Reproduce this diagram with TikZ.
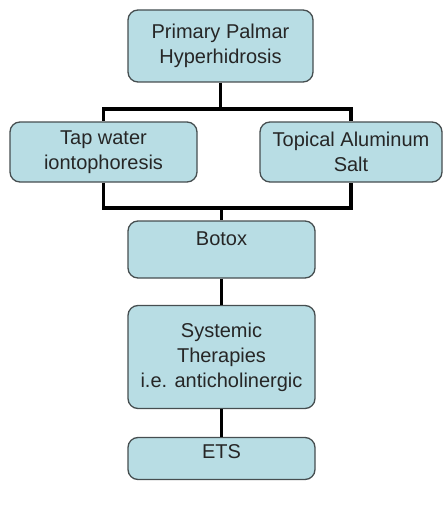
\documentclass[tikz,border=0pt]{standalone}
\usepackage{fontspec}
\setmainfont{Liberation Sans}
\usepackage{tikz}
\definecolor{boxfill}{RGB}{184,221,228}
\definecolor{boxline}{RGB}{70,78,80}
\tikzset{
  box/.style={draw=boxline, line width=1.3pt, fill=boxfill, rounded corners=10pt,
    inner sep=4pt, align=center, text=black!85, font=\fontsize{20}{25}\selectfont},
  link/.style={line width=3.8pt, black}
}
\begin{document}
\begin{tikzpicture}[x=1pt,y=1pt]
                \useasboundingbox (0,0) rectangle (443,-508);
                % boxes
                \node[box, minimum width=185pt, minimum height=72pt] (primary) at (220.5,-46) {Primary Palmar\\Hyperhidrosis};
                \node[box, minimum width=187pt, minimum height=60pt] (tapwater) at (103.5,-152) {Tap water\\iontophoresis};
                \node[box, minimum width=182pt, minimum height=60pt] (topical) at (351,-152) {Topical Aluminum\\Salt};
                \node[box, minimum width=187pt, text height=20.5pt, text depth=28.5pt] (botox) at (221.5,-249.5) {Botox};
                \node[box, minimum width=187pt, minimum height=103pt] (systemic) at (221.5,-357) {Systemic\\Therapies\\i.e. anticholinergic};
                \node[box, minimum width=187pt, text height=16.5pt, text depth=17.5pt] (ets) at (221.5,-458.5) {ETS};

                % connectors
                \coordinate (upbar) at (0,-109);
                \coordinate (lowbar) at (0,-208);
                \draw[link] (primary.south) -- (primary.south |- upbar) -| (tapwater.north);
                \draw[link] (primary.south |- upbar) -| (topical.north);
                \draw[link] (tapwater.south) |- (botox.north |- lowbar) -| (topical.south);
                \draw[link] (botox.north |- lowbar) -- (botox.north);
                \draw[link] (botox.south) -- (systemic.north);
                \draw[link] (systemic.south) -- (ets.north);
            \end{tikzpicture}
\end{document}
